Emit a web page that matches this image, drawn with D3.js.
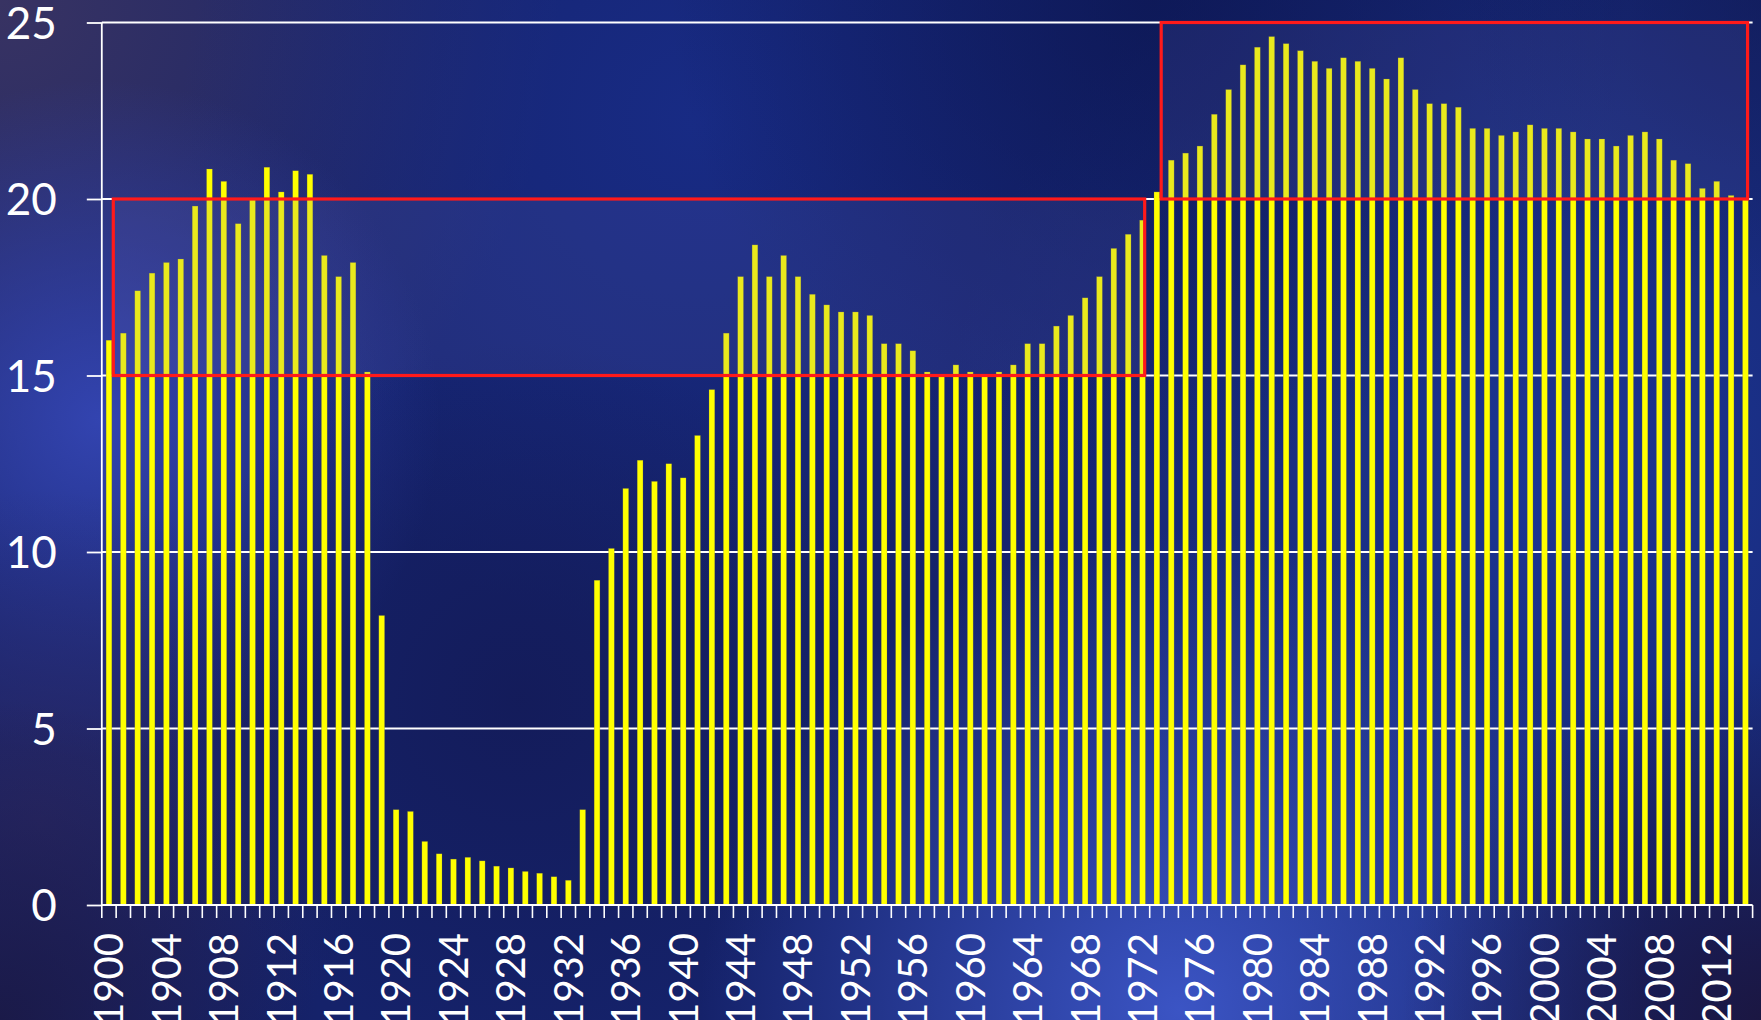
<!DOCTYPE html>
<html>
<head>
<meta charset="utf-8">
<script src="https://cdn.jsdelivr.net/npm/d3@7"></script>
<style>
  html, body { margin: 0; padding: 0; background: #142065; overflow: hidden; }
  svg { display: block; }
  .axis text { font-family: Lato, "Open Sans", sans-serif; fill: #fff; }
</style>
</head>
<body>
<div id="chart"></div>
<script>
// one bar per year, 1900 - 2014
var years = d3.range(1900, 2015);

var values = [
  16.0, 16.2, 17.4, 17.9, 18.2, 18.3, 19.8, 20.85, 20.5, 19.3,
  20.0, 20.9, 20.2, 20.8, 20.7, 18.4, 17.8, 18.2, 15.1, 8.2,
  2.7, 2.65, 1.8, 1.45, 1.3, 1.35, 1.25, 1.1, 1.05, 0.95,
  0.9, 0.8, 0.7, 2.7, 9.2, 10.1, 11.8, 12.6, 12.0, 12.5,
  12.1, 13.3, 14.6, 16.2, 17.8, 18.7, 17.8, 18.4, 17.8, 17.3,
  17.0, 16.8, 16.8, 16.7, 15.9, 15.9, 15.7, 15.1, 15.0, 15.3,
  15.1, 15.0, 15.1, 15.3, 15.9, 15.9, 16.4, 16.7, 17.2, 17.8,
  18.6, 19.0, 19.4, 20.2, 21.1, 21.3, 21.5, 22.4, 23.1, 23.8,
  24.3, 24.6, 24.4, 24.2, 23.9, 23.7, 24.0, 23.9, 23.7, 23.4,
  24.0, 23.1, 22.7, 22.7, 22.6, 22.0, 22.0, 21.8, 21.9, 22.1,
  22.0, 22.0, 21.9, 21.7, 21.7, 21.5, 21.8, 21.9, 21.7, 21.1,
  21.0, 20.3, 20.5, 20.1, 20.0
];

var tickYears = [1900, 1904, 1908, 1912, 1916, 1920, 1924, 1928, 1932, 1936,
  1940, 1944, 1948, 1952, 1956, 1960, 1964, 1968, 1972, 1976, 1980, 1984,
  1988, 1992, 1996, 2000, 2004, 2008, 2012];

var yTicks = [0, 5, 10, 15, 20, 25];

// highlighted ranges: first year, last year, low, high
var boxFrom = [1900, 1973];
var boxTo = [1972, 2014];
var boxLow = [15, 20];
var boxHigh = [20, 25];

var width = 1761,
    height = 1020,
    margins = { top: 22.5, right: 8.4, bottom: 115, left: 101.8 };

var svg = d3.select('#chart').append('svg')
  .attr('width', width)
  .attr('height', height);

// background glow
var defs = svg.append('defs');
var glows = [
  { id: 'g1', cx: 0, cy: 0, r: 560, c: '#3a3462', o: 0.95 },
  { id: 'g2', cx: 700, cy: 120, r: 520, c: '#1a3196', o: 0.6 },
  { id: 'g3', cx: 1560, cy: 480, r: 620, c: '#1f3ea6', o: 0.7 },
  { id: 'g4', cx: 1150, cy: 0, r: 480, c: '#0b1550', o: 0.7 },
  { id: 'g5', cx: 100, cy: 420, r: 340, c: '#3547b8', o: 0.9 },
  { id: 'g6', cx: 40, cy: 820, r: 330, c: '#2e2a66', o: 0.75 },
  { id: 'g7', cx: 0, cy: 1020, r: 320, c: '#1a1843', o: 0.85 },
  { id: 'g8', cx: 520, cy: 700, r: 360, c: '#131954', o: 0.7 },
  { id: 'g9', cx: 1180, cy: 1010, r: 480, c: '#3d57c9', o: 0.95 },
  { id: 'g10', cx: 1761, cy: 1020, r: 360, c: '#1b1640', o: 0.95 },
  { id: 'g11', cx: 1761, cy: 0, r: 300, c: '#101a55', o: 0.6 }
];

glows.forEach(function(g) {
  var grad = defs.append('radialGradient')
    .attr('id', g.id)
    .attr('gradientUnits', 'userSpaceOnUse')
    .attr('cx', g.cx).attr('cy', g.cy).attr('r', g.r);
  grad.append('stop').attr('offset', '0%').attr('stop-color', g.c).attr('stop-opacity', g.o);
  grad.append('stop').attr('offset', '100%').attr('stop-color', g.c).attr('stop-opacity', 0);
});

svg.append('rect')
  .attr('width', width).attr('height', height)
  .attr('fill', '#15226a');

glows.forEach(function(g) {
  svg.append('rect')
    .attr('width', width).attr('height', height)
    .attr('fill', 'url(#' + g.id + ')');
});

var xScale = d3.scaleBand()
  .domain(years)
  .range([margins.left, width - margins.right])
  .paddingInner(0.6)
  .paddingOuter(0.3);

var yScale = d3.scaleLinear()
  .domain([0, 25])
  .range([height - margins.bottom, margins.top]);

var step = xScale.step();
var center = function(yr) { return xScale(yr) + xScale.bandwidth() / 2; };

// grid lines
svg.append('g')
  .selectAll('line')
  .data(yTicks.slice(1))
  .enter().append('line')
  .attr('x1', margins.left)
  .attr('x2', width - margins.right)
  .attr('y1', function(d) { return yScale(d); })
  .attr('y2', function(d) { return yScale(d); })
  .attr('stroke', '#fff')
  .attr('stroke-width', 1.8);

// bars
svg.append('g')
  .selectAll('rect')
  .data(values)
  .enter().append('rect')
  .attr('x', function(d, i) { return xScale(years[i]); })
  .attr('width', xScale.bandwidth())
  .attr('y', function(d) { return yScale(d); })
  .attr('height', function(d) { return yScale(0) - yScale(d); })
  .attr('fill', '#ffff00')
  .attr('stroke', 'rgba(110,110,70,0.45)')
  .attr('stroke-width', 0.5);

// highlight boxes
svg.append('g')
  .selectAll('rect')
  .data(boxFrom)
  .enter().append('rect')
  .attr('x', function(d) { return center(d) + 0.3 * step; })
  .attr('width', function(d, i) { return center(boxTo[i]) - center(d) - 0.15 * step; })
  .attr('y', function(d, i) { return yScale(boxHigh[i]); })
  .attr('height', function(d, i) { return yScale(boxLow[i]) - yScale(boxHigh[i]); })
  .attr('fill', 'rgba(110,110,195,0.15)')
  .attr('stroke', '#ff1a1a')
  .attr('stroke-width', 3.2);

// y axis
var yAxis = d3.axisLeft(yScale)
  .tickValues(yTicks)
  .tickSize(15)
  .tickPadding(30);

svg.append('g')
  .attr('class', 'axis')
  .attr('transform', 'translate(' + margins.left + ',0)')
  .call(yAxis)
  .call(function(g) {
    g.selectAll('path, line').attr('stroke', '#fff').attr('stroke-width', 1.8);
    g.select('.domain').attr('d', 'M0,' + yScale(25) + 'V' + yScale(0));
    g.selectAll('text').attr('font-size', 44).attr('dy', '0.36em');
  });

// x axis: baseline, boundary ticks, rotated labels
var xAxis = d3.axisBottom(xScale)
  .tickValues(tickYears)
  .tickSize(0)
  .tickPadding(0);

var xg = svg.append('g')
  .attr('class', 'axis')
  .attr('transform', 'translate(0,' + yScale(0) + ')')
  .call(xAxis);

xg.select('.domain')
  .attr('d', 'M' + margins.left + ',0H' + (width - margins.right))
  .attr('stroke', '#fff')
  .attr('stroke-width', 1.8);

xg.selectAll('text')
  .attr('font-size', 40)
  .attr('transform', 'translate(0,28) rotate(-90)')
  .attr('text-anchor', 'end')
  .attr('x', 0)
  .attr('y', 0)
  .attr('dy', '0.36em');

xg.append('g')
  .selectAll('line')
  .data(years.concat([years[years.length - 1] + 1]))
  .enter().append('line')
  .attr('x1', function(d, i) { return margins.left + i * step; })
  .attr('x2', function(d, i) { return margins.left + i * step; })
  .attr('y1', 0)
  .attr('y2', 13)
  .attr('stroke', '#fff')
  .attr('stroke-width', 1.6);
</script>
</body>
</html>
